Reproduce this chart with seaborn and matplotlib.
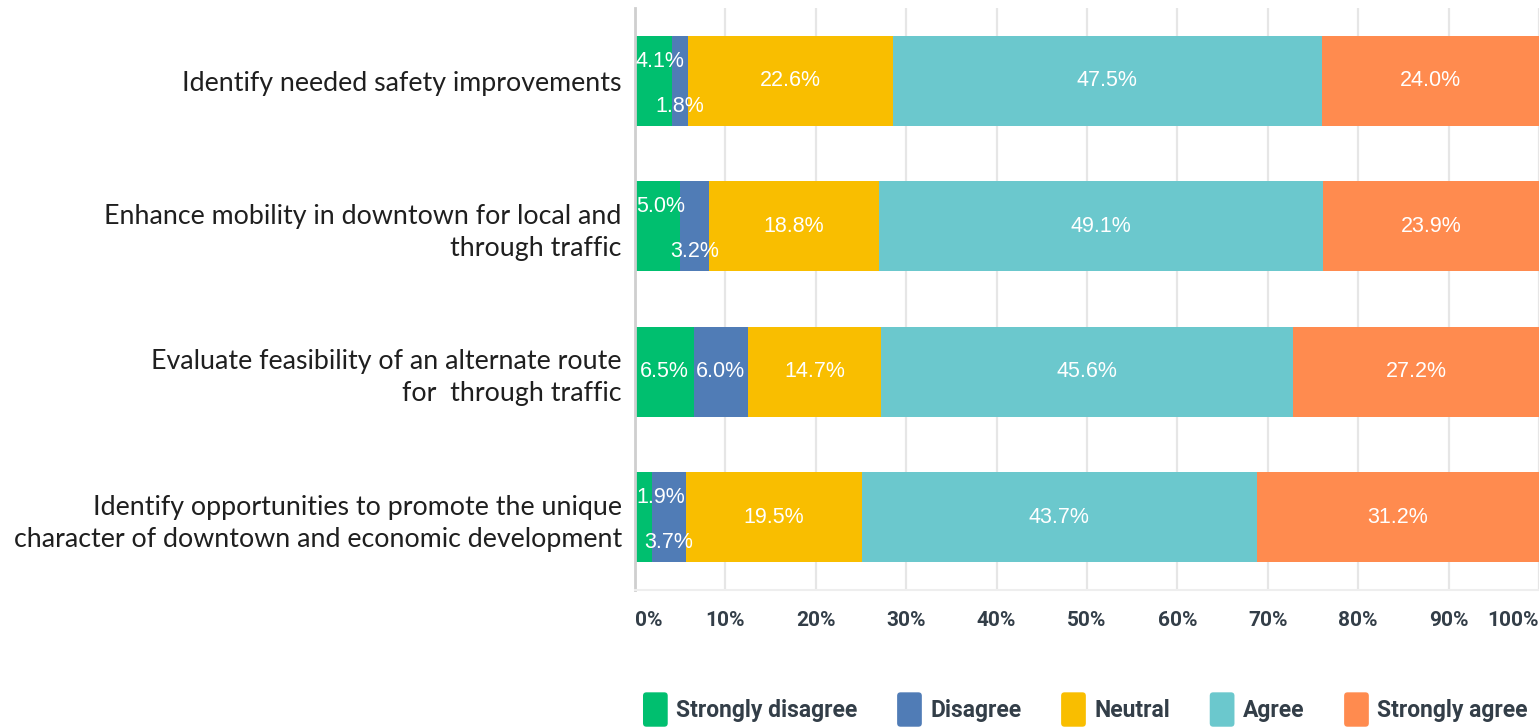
import numpy as np
import pandas as pd
import matplotlib
matplotlib.use('Agg')
import matplotlib.pyplot as plt
import seaborn as sns
from matplotlib.patches import FancyBboxPatch, Patch
from matplotlib.legend_handler import HandlerPatch

# survey questions, top to bottom
questions = [
    'Identify needed safety improvements',
    'Enhance mobility in downtown for local and\nthrough traffic',
    'Evaluate feasibility of an alternate route\nfor  through traffic',
    'Identify opportunities to promote the unique\ncharacter of downtown and economic development',
]
responses = ['Strongly disagree', 'Disagree', 'Neutral', 'Agree', 'Strongly agree']

# percent of answers per question
strongly_disagree = [4.1, 5.0, 6.5, 1.9]
disagree = [1.8, 3.2, 6.0, 3.7]
neutral = [22.6, 18.8, 14.7, 19.5]
agree = [47.5, 49.1, 45.6, 43.7]
strongly_agree = [24.0, 23.9, 27.2, 31.2]

x_ticks = [0, 10, 20, 30, 40, 50, 60, 70, 80, 90, 100]
colors = ['#00bf6f', '#507cb6', '#f9be00', '#6bc8cd', '#ff8b4f']
text_dark = '#333e48'

sns.set_style('white')
plt.rcParams['font.family'] = ['Lato', 'DejaVu Sans']

df = pd.DataFrame({
    'question': questions,
    'Strongly disagree': strongly_disagree,
    'Disagree': disagree,
    'Neutral': neutral,
    'Agree': agree,
    'Strongly agree': strongly_agree,
})
cum = df[responses].cumsum(axis=1)
cum['question'] = df['question']

fig = plt.figure(figsize=(15.39, 7.27), dpi=100)
ax = fig.add_axes([635 / 1539, 137 / 727, 904 / 1539, 582 / 727])

# stacked bars: draw cumulative totals from the widest down
for k in range(len(responses) - 1, -1, -1):
    sns.barplot(data=cum, y='question', x=responses[k], color=colors[k],
                saturation=1, width=0.62, orient='h', linewidth=0, ax=ax, zorder=2)

# value labels (tiny segments get staggered up/down and kept inside the axes)
for i in range(len(questions)):
    vals = df.loc[i, responses].values.astype(float)
    left = 0.0
    stagger = vals[0] + vals[1] < 10
    for k, v in enumerate(vals):
        yoff = 0.0
        if stagger and k == 0:
            yoff = -0.135
        elif stagger and k == 1:
            yoff = 0.175
        x, ha = left + v / 2, 'center'
        if x < 2.6:
            x, ha = 0.1, 'left'
        ax.text(x, i + yoff, f'{v:.1f}%', ha=ha, va='center',
                color='white', fontsize=15.5, family=['Liberation Sans', 'DejaVu Sans'],
                zorder=3)
        left += v

ax.set_xlim(0, 100)
ax.set_ylim(3.5, -0.5)
ax.set_xlabel('')
ax.set_ylabel('')
ax.set_xticks(x_ticks)
ax.set_xticklabels([f'{t}%' for t in x_ticks], fontsize=15, fontweight='bold',
                   color=text_dark, family=['Roboto', 'DejaVu Sans'])
labs = ax.get_xticklabels()
labs[0].set_ha('left')
labs[-1].set_ha('right')
ax.tick_params(axis='x', length=0, pad=15)
ax.tick_params(axis='y', length=0, pad=9.5)
for lab in ax.get_yticklabels():
    lab.set_fontsize(19.3)
    lab.set_color('#1f1f1f')
    lab.set_linespacing(1.35)

ax.grid(axis='x', color='#e6e6e6', linewidth=1.6, zorder=0)
ax.set_axisbelow(True)
for s in ['top', 'right']:
    ax.spines[s].set_visible(False)
ax.spines['left'].set_color('#cfcfcf')
ax.spines['left'].set_linewidth(2)
ax.spines['bottom'].set_color('#eeeeee')
ax.spines['bottom'].set_linewidth(1.5)


class RoundHandler(HandlerPatch):
    def create_artists(self, legend, orig_handle, xdescent, ydescent, width, height, fontsize, trans):
        p = FancyBboxPatch((-xdescent + 1, -ydescent - 5), width - 2, height + 10,
                           boxstyle='round,pad=0,rounding_size=2.5',
                           facecolor=orig_handle.get_facecolor(), edgecolor='none',
                           transform=trans)
        return [p]


handles = [Patch(facecolor=c, label=r) for c, r in zip(colors, responses)]
leg = fig.legend(handles=handles, loc='lower right', bbox_to_anchor=(1.006, -0.022), ncol=5,
                 frameon=False, handler_map={Patch: RoundHandler()},
                 handlelength=1.2, handleheight=1.0, handletextpad=0.3, columnspacing=1.68,
                 prop={'family': ['Roboto', 'DejaVu Sans'], 'weight': 'bold', 'size': 16.5})
for t in leg.get_texts():
    t.set_color(text_dark)

fig.savefig('out.png', dpi=100)
